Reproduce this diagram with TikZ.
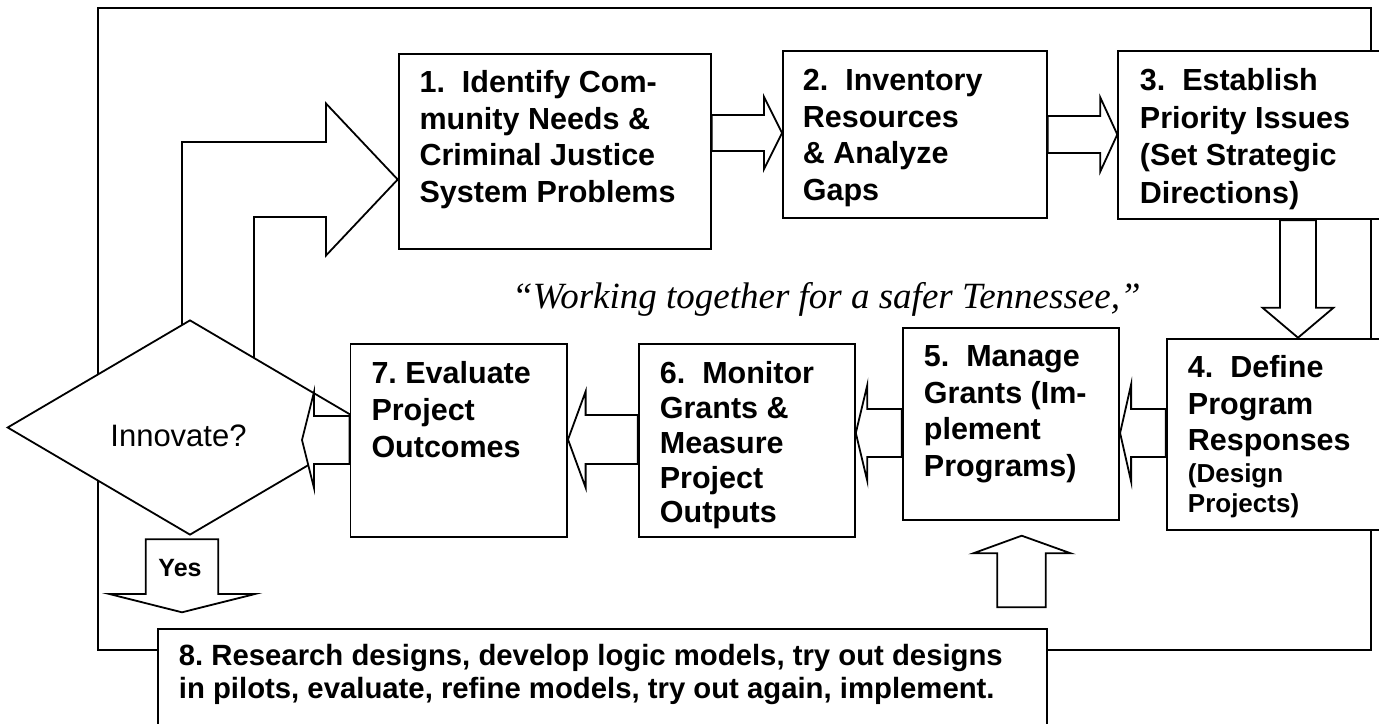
\documentclass[tikz,border=0pt]{standalone}
\usepackage{fontspec}
\setmainfont{Liberation Sans}
\newfontfamily\quotefont{Liberation Serif}
\usetikzlibrary{calc,shapes.geometric}

% box text: width, height, first baseline, left margin, text
\newcommand\bt[5]{\parbox[c][#2][t]{#1}{\frenchspacing\raggedright\leftskip=#4\relax\rule{0pt}{#3}#5}}

% right-pointing block arrow: tail node, tip node, centre y, shaft half, head half, head length
\newcommand\rarrow[6]{%
 \filldraw[blk] (#1.east |- 0,#3-#4) -- ($(#2.west |- 0,#3-#4)+(-#6,0)$) -- ($(#2.west |- 0,#3-#5)+(-#6,0)$)
  -- (#2.west |- 0,#3) -- ($(#2.west |- 0,#3+#5)+(-#6,0)$) -- ($(#2.west |- 0,#3+#4)+(-#6,0)$)
  -- (#1.east |- 0,#3+#4) -- cycle;}
% left-pointing block arrow
\newcommand\larrow[6]{%
 \filldraw[blk] (#1.west |- 0,#3-#4) -- ($(#2.east |- 0,#3-#4)+(#6,0)$) -- ($(#2.east |- 0,#3-#5)+(#6,0)$)
  -- (#2.east |- 0,#3) -- ($(#2.east |- 0,#3+#5)+(#6,0)$) -- ($(#2.east |- 0,#3+#4)+(#6,0)$)
  -- (#1.west |- 0,#3+#4) -- cycle;}

\begin{document}
\begin{tikzpicture}[x=1pt,y=-1pt,line width=1.8pt,line join=miter,
  box/.style={draw,fill=white,inner sep=0pt,anchor=north west,
    font=\bfseries\fontsize{30.5}{36.5}\selectfont},
  blk/.style={draw,fill=white}]
\useasboundingbox (0,0) rectangle (1379,723);
\clip (0,0) rectangle (1379,723);

% outer loop
\draw (98.3,8) rectangle (1370.7,650);

% box 1
\node[box] (b1) at (397.7,52.7)
  {\bt{312.3pt}{195pt}{39.3pt}{21pt}{1.\ \ Identify Com-\\munity Needs \&\\Criminal Justice\\System Problems}};

% L-shaped arrow from the decision to box 1
\filldraw[blk] (182,400) -- (182,142) -- (326,142) -- (326,103.5) -- (b1.west |- 0,179.5)
  -- (326,255.5) -- (326,217) -- (254,217) -- (254,400) -- cycle;

% decision
\node[diamond,draw,fill=white,inner sep=0pt,minimum width=365.4pt,minimum height=215pt] (dia) at (190,427.5) {};
\node[anchor=base,font=\fontsize{31}{36}\selectfont] (innov) at (178.5,446) {Innovate?};

% box 7
\node[box,font=\bfseries\fontsize{30.5}{37}\selectfont] (b7) at (349.6,343.3)
  {\bt{216.6pt}{192.7pt}{39.7pt}{21pt}{7. Evaluate\\Project\\Outcomes}};

% arrow 7 -> decision
\coordinate (tip7) at (302,440);
\filldraw[blk] (b7.west |- 0,416) -- (314,416) -- (314,392) -- (tip7) -- (314,488) -- (314,464)
  -- (b7.west |- 0,464) -- cycle;

% Yes arrow
\filldraw[blk] (145.7,539.3) -- (218.3,539.3) -- (218.3,594) -- (255,594) -- (182,612.3)
  -- (109.3,594) -- (145.7,594) -- cycle;
\node[anchor=base,font=\bfseries\fontsize{25}{30}\selectfont] (yes) at (180,576) {Yes};

% other boxes
\node[box] (b2) at (782,50)
  {\bt{264pt}{167.3pt}{40pt}{20pt}{2.\ \ Inventory\\Resources\\\& Analyze\\Gaps}};
\node[box,font=\bfseries\fontsize{30.5}{37.5}\selectfont] (b3) at (1117.3,50)
  {\bt{300pt}{168.3pt}{40pt}{21.7pt}{3.\ \ Establish\\Priority Issues\\(Set Strategic\\Directions)}};
\node[box] (b4) at (1165.7,337.7)
  {\bt{300pt}{191.6pt}{39.3pt}{21.3pt}{4.\ \ Define\\Program\\Responses\par\vspace{1.5pt}{\fontsize{26}{30}\selectfont(Design\\Projects)\par}}};
\node[box] (b5) at (901.7,326.7)
  {\bt{216.6pt}{192.3pt}{39.3pt}{21.3pt}{5.\ \ Manage\\Grants (Im-\\plement\\Programs)}};
\node[box,font=\bfseries\fontsize{30.5}{34.75}\selectfont] (b6) at (637.7,343.3)
  {\bt{216.3pt}{192.7pt}{39.7pt}{21.3pt}{6.\ \ Monitor\\Grants \&\\Measure\\Project\\Outputs}};
\node[box,font=\bfseries\fontsize{29.3}{33}\selectfont] (b8) at (157.3,628.3)
  {\bt{888.4pt}{120pt}{36.7pt}{20.7pt}{8. Research designs, develop logic models, try out designs\\in pilots, evaluate, refine models, try out again, implement.}};

% arrows between boxes
\rarrow{b1}{b2}{133}{18}{36}{18}
\rarrow{b2}{b3}{134.5}{18.5}{37}{17}
\filldraw[blk] (b3.south -| 1280,0) -- ($(b4.north -| 1280,0)+(0,-30)$) -- ($(b4.north -| 1262.5,0)+(0,-30)$)
  -- (b4.north -| 1298,0) -- ($(b4.north -| 1333.5,0)+(0,-30)$) -- ($(b4.north -| 1316,0)+(0,-30)$)
  -- (b3.south -| 1316,0) -- cycle;
\larrow{b4}{b5}{433}{24}{48.5}{11}
\larrow{b5}{b6}{433}{24}{48}{11.5}
\larrow{b6}{b7}{439.5}{24.5}{48}{17.6}

% arrow from box 8 up to box 5
\filldraw[blk] (997.3,607.3) -- (997.3,553.3) -- (973.3,553.3) -- (1021.7,535.7) -- (1070.7,553.3)
  -- (1045.7,553.3) -- (1045.7,607.3) -- cycle;

% motto
\node[anchor=base west,font=\quotefont\itshape\fontsize{37}{41}\selectfont] (motto) at (508,308)
  {“Working together for a safer Tennessee,”};
\end{tikzpicture}
\end{document}
